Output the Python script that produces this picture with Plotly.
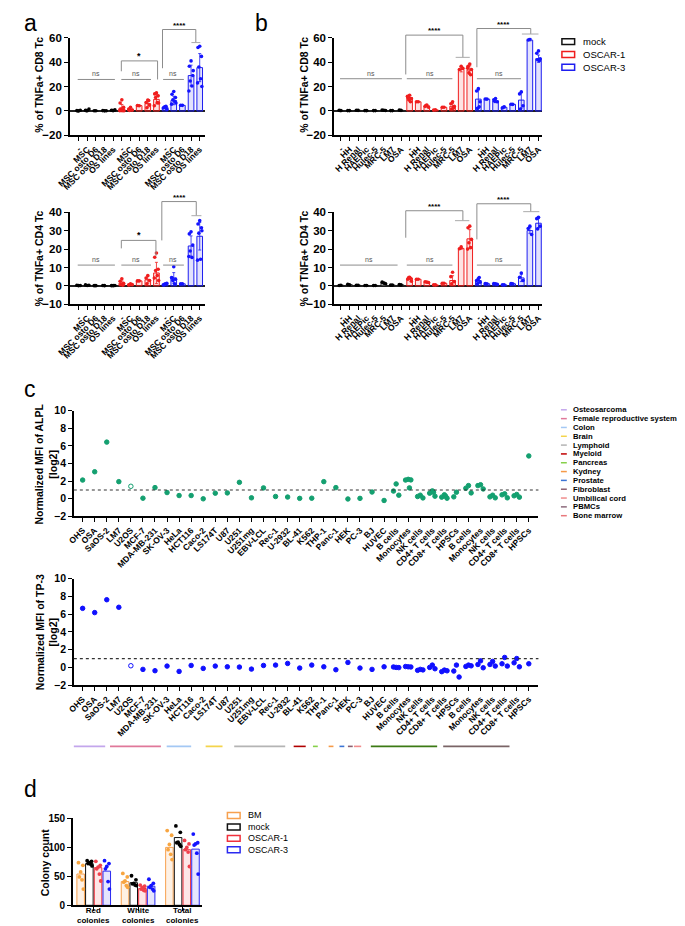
import plotly.graph_objects as go

W, H = 685, 926
FONT = "Liberation Sans, Arial, sans-serif"


def px(x):
    return x / W


def py(y):
    return 1 - y / H


# ---------------- Panel a / b data ----------------
A_CATS = ["-", "MSC", "MSC osto D6", "MSC osto D18", "OS lines"]
B_CATS = ["-", "HH", "H Renal", "HAEPic", "Hulec-5", "MRC-5", "LM7", "OSA"]
SERIES = ["mock", "OSCAR-1", "OSCAR-3"]
SERIES_LINE = ["#111111", "#f01e1e", "#1e1ef0"]
SERIES_FILL = ["rgba(255,255,255,1)", "rgba(240,30,30,0.13)", "rgba(30,30,240,0.13)"]
SERIES_DOT = ["#000000", "#f01e1e", "#1414ff"]

# a: CD8
A_CD8_MOCK = [0.3, 0.6, 0.2, 0.2, 0.5]
A_CD8_MOCK_SD = [0.3, 0.6, 0.1, 0.1, 0.3]
A_CD8_MOCK_PTS = [[0.0, 0.3, 0.6, 0.2], [0.2, 0.5, 1.6, 0.3], [0.2, 0.2], [0.1, 0.3, 0.2], [0.3, 0.6, 0.9, 0.4]]
A_CD8_OSC1 = [2.3, 1.6, 4.4, 6.0, 9.5]
A_CD8_OSC1_SD = [3.0, 1.2, 0.2, 2.8, 3.8]
A_CD8_OSC1_PTS = [[9.1, 6.5, 3.0, 1.6, 0.5, 0.3, 0.2], [3.0, 1.6, 0.8, 0.5], [4.3, 4.5],
                  [9.0, 7.0, 4.8, 2.7, 8.5], [14.8, 14.0, 12.4, 11.0, 7.0, 4.3, 6.5]]
A_CD8_OSC3 = [3.0, 8.6, 4.6, 29.0, 35.5]
A_CD8_OSC3_SD = [1.0, 3.5, 0.3, 8.5, 11.5]
A_CD8_OSC3_PTS = [[3.5, 2.4, 1.3, 3.0, 3.8], [15.9, 13.7, 11.0, 9.1, 8.0, 5.6, 6.5], [4.6, 4.7],
                  [41.0, 36.6, 29.0, 24.5, 20.4, 16.4, 33.0], [53.0, 52.0, 44.7, 36.0, 26.4, 23.0, 20.0]]

# a: CD4
A_CD4_MOCK = [0.2, 0.3, 0.1, 0.1, 0.1]
A_CD4_MOCK_SD = [0.1, 0.2, 0.05, 0.05, 0.05]
A_CD4_MOCK_PTS = [[0.1, 0.3, 0.2], [0.2, 0.5, 0.3], [0.1, 0.1], [0.1, 0.15], [0.1, 0.1, 0.2]]
A_CD4_OSC1 = [1.5, 0.8, 2.7, 3.3, 7.0]
A_CD4_OSC1_SD = [1.2, 0.3, 0.1, 1.8, 5.8]
A_CD4_OSC1_PTS = [[3.9, 2.5, 1.4, 0.7, 0.4], [1.1, 0.5, 0.7], [2.7, 2.7], [5.6, 4.3, 2.9, 1.1],
                  [17.9, 15.6, 9.0, 8.3, 5.6, 4.3, 2.9]]
A_CD4_OSC3 = [0.8, 4.3, 1.1, 21.7, 27.0]
A_CD4_OSC3_SD = [0.4, 2.9, 0.1, 5.5, 7.5]
A_CD4_OSC3_PTS = [[1.1, 0.5, 1.4, 0.6], [10.4, 4.3, 3.6, 2.9, 1.1, 4.5], [1.1, 1.1],
                  [29.4, 28.3, 22.2, 19.0, 15.4, 16.0], [35.5, 33.7, 31.6, 28.7, 14.5, 14.0, 30.0]]

# b: CD8
B_CD8_MOCK = [0.4, 0.3, 0.5, 0.3, 0.3, 0.6, 0.3, 0.5]
B_CD8_MOCK_SD = [0.2, 0.1, 0.2, 0.1, 0.1, 0.3, 0.1, 0.2]
B_CD8_MOCK_PTS = [[0.3, 0.5], [0.3, 0.3], [0.5, 0.6], [0.3, 0.3], [0.3, 0.3], [0.6, 0.8, 0.4], [0.3, 0.3], [0.5, 0.7]]
B_CD8_OSC1 = [11.0, 7.5, 4.2, 0.9, 3.0, 3.8, 34.0, 33.5]
B_CD8_OSC1_SD = [2.0, 0.3, 0.8, 0.2, 0.2, 2.4, 2.0, 3.5]
B_CD8_OSC1_PTS = [[12.9, 11.0, 10.2, 9.1, 7.5, 12.0], [7.5, 7.5], [4.8, 3.8, 3.0, 4.5], [1.0, 0.8], [3.0, 3.1],
                  [7.5, 5.9, 3.8, 1.6, 2.5], [36.6, 33.9, 35.0], [38.5, 36.6, 33.9, 31.2, 29.6, 35.0]]
B_CD8_OSC3 = [9.7, 9.7, 8.3, 3.0, 5.4, 8.9, 58.0, 42.8]
B_CD8_OSC3_SD = [7.5, 0.3, 1.5, 0.8, 0.2, 6.5, 0.6, 3.0]
B_CD8_OSC3_PTS = [[18.3, 16.4, 7.5, 2.1, 3.5], [9.7, 9.8], [10.2, 9.1, 7.5, 8.0], [3.5, 2.5], [5.4, 5.5],
                  [15.6, 14.0, 4.3, 1.6], [58.9, 58.1], [49.2, 47.3, 42.8, 42.0, 41.2]]

# b: CD4
B_CD4_MOCK = [0.3, 0.6, 0.3, 0.2, 0.2, 1.5, 0.4, 0.5]
B_CD4_MOCK_SD = [0.1, 0.2, 0.1, 0.1, 0.1, 0.5, 0.1, 0.2]
B_CD4_MOCK_PTS = [[0.3, 0.2], [0.6, 0.8], [0.3, 0.3], [0.2, 0.2], [0.2, 0.2], [1.5, 2.0, 1.1], [0.4, 0.4], [0.5, 0.7]]
B_CD4_OSC1 = [4.3, 3.6, 2.0, 0.5, 1.4, 2.9, 20.4, 25.6]
B_CD4_OSC1_SD = [0.6, 0.1, 0.3, 0.1, 0.1, 2.6, 0.5, 5.0]
B_CD4_OSC1_PTS = [[4.7, 3.6, 2.5, 4.5, 4.0], [3.6, 3.6], [2.0, 2.2, 1.8], [0.5, 0.6], [1.4, 1.4],
                  [7.4, 5.0, 2.3, 1.1], [21.2, 20.2], [32.5, 31.6, 25.3, 23.5, 20.8, 20.0]]
B_CD4_OSC3 = [2.9, 1.1, 1.1, 0.5, 1.1, 4.3, 30.1, 34.1]
B_CD4_OSC3_SD = [1.2, 0.1, 0.2, 0.1, 0.1, 2.0, 1.5, 2.5]
B_CD4_OSC3_PTS = [[3.8, 2.9, 2.0, 1.1, 4.5], [1.1, 1.2], [1.1, 1.3, 0.9], [0.5, 0.6], [1.1, 1.2],
                  [7.0, 4.7, 2.9], [32.5, 31.2, 28.0], [37.3, 36.6, 32.5, 31.0]]

# significance brackets: (x0, x1, y_top, y_left_end, y_right_end, label, cap_x0, cap_x1)
A_CD8_NS = [(-0.1, 4.2, 25.8), (4.94, 8.37, 25.8), (9.77, 12.17, 25.8)]
A_CD8_BR = [(4.94, 9.13, 41.0, 32.5, 25.8, "*", None, None),
            (9.7, 13.55, 66.7, 35.0, 56.0, "****", 13.04, 14.07)]
A_CD4_NS = [(-0.1, 4.2, 11.3), (4.94, 8.37, 11.3), (9.77, 12.17, 11.3)]
A_CD4_BR = [(4.94, 8.94, 24.75, 20.4, 16.3, "*", None, None),
            (9.62, 13.6, 45.9, 24.75, 38.2, "****", 13.04, 14.2)]
B_CD8_NS = [(-0.1, 7.1, 26.4), (7.67, 12.98, 26.4), (15.83, 20.96, 26.4)]
B_CD8_BR = [(7.55, 14.2, 62.1, 29.9, 43.9, "****", 13.36, 15.0),
            (15.83, 22.1, 67.5, 35.8, 63.0, "****", 21.07, 23.0)]
B_CD4_NS = [(-0.1, 6.6, 11.3), (7.67, 12.98, 11.3), (15.83, 20.96, 11.3)]
B_CD4_BR = [(7.55, 14.2, 40.9, 26.2, 35.5, "****", 13.28, 14.95),
            (15.83, 22.1, 44.7, 25.3, 40.4, "****", 21.22, 23.1)]

# ---------------- Panel c data ----------------
C_CATS = ["OHS", "OSA", "SaOS-2", "LM7", "U2OS", "MCF-7", "MDA-MB-231", "SK-OV-3", "HeLa", "HCT116",
          "Caco-2", "LS174T", "U87", "U251", "U251mg", "EBV-LCL", "Rec-1", "U-2932", "BL-41", "K562",
          "THP-1", "Panc-1", "HEK", "PC-3", "BJ", "HUVEC",
          "B cells", "Monocytes", "NK cells", "CD4+ T cells", "CD8+ T cells", "HPSCs",
          "B cells", "Monocytes", "NK cells", "CD4+ T cells", "CD8+ T cells", "HPSCs"]
C_OPEN = ["U2OS"]
ALPL = [[2.13], [3.07], [6.44], [1.95], [1.42], [0.07], [1.27], [0.71], [0.37], [0.37],
        [0.0], [0.64], [0.67], [1.87], [0.11], [1.24], [0.26], [0.2], [0.05], [0.07],
        [1.95], [1.27], [-0.02], [0.05], [0.77], [-0.19],
        [1.69, 0.88, 0.41], [2.21, 2.13, 2.15, 1.24], [0.41, 0.26, 0.1], [0.9, 0.64, 0.3, 0.75],
        [0.45, 0.19, 0.07, 0.3], [0.75, 0.22],
        [1.5, 1.2, 0.67], [1.6, 1.5, 1.12], [0.41, 0.22, 0.11], [0.56, 0.45, 0.11], [0.49, 0.34, 0.19], [4.87]]
TP3 = [[6.65], [6.17], [7.62], [6.77], [0.19], [-0.22], [-0.37], [0.15], [-0.45], [0.22],
       [-0.11], [0.15], [0.07], [0.04], [-0.19], [0.22], [0.26], [0.45], [-0.07], [0.26],
       [0.07], [-0.26], [0.56], [-0.07], [-0.22], [0.07],
       [0.0, 0.05, -0.02], [0.07, 0.1, 0.05], [-0.22, -0.33, -0.28], [0.26, 0.0, -0.15],
       [-0.3, -0.48, -0.38], [0.26, -0.41, -1.08],
       [0.26, 0.11, 0.18], [0.74, 0.33, -0.04], [0.67, 0.33, 0.15], [1.12, 0.41, 0.15], [1.0, 0.52, 0.07], [0.41]]
THRESHOLD = 1
TISSUES = ["Osteosarcoma", "Female reproductive system", "Colon", "Brain", "Lymphoid", "Myeloid",
           "Pancreas", "Kydney", "Prostate", "Fibroblast", "Umbilical cord", "PBMCs", "Bone marrow"]
TISSUE_LEGEND_COLORS = ["#c3a6ec", "#e0789a", "#a4c8f4", "#f4d44c", "#b4b4b4", "#c00000", "#86d04a",
                        "#f59a48", "#3c74d4", "#8c6070", "#f08c8c", "#8c6a7c", "#e8787c"]
TISSUE_BAR_COLORS = ["#c3a6ec", "#e0789a", "#a4c8f4", "#f4d44c", "#b4b4b4", "#b00000", "#86d04a",
                     "#f59a48", "#3c74d4", "#8c6070", "#f08c8c", "#3c7a14", "#7a6466"]
# tissue spans along the category axis (start, end)
TISSUE_SPANS = [(-1.38, 1.87), (2.27, 6.49), (6.97, 9.0), (10.2, 11.6), (12.57, 16.8), (17.5, 18.5),
                (19.1, 19.5), (20.4, 20.8), (21.3, 21.7), (22.0, 22.4), (22.5, 23.1), (23.9, 29.4),
                (29.9, 35.4)]

# ---------------- Panel d data ----------------
D_CATS = ["Red colonies", "White colonies", "Total colonies"]
D_SERIES = ["BM", "mock", "OSCAR-1", "OSCAR-3"]
D_LINE = ["#f7a04e", "#111111", "#f0303c", "#2a2af0"]
D_FILL = ["rgba(247,160,78,0.15)", "rgba(255,255,255,1)", "rgba(240,48,60,0.12)", "rgba(42,42,240,0.12)"]
D_DOT = ["#f7a541", "#000000", "#f0404c", "#1414ff"]
D_BM = [54, 41, 100]
D_MOCK = [72, 39, 117]
D_OSC1 = [65, 29, 96]
D_OSC3 = [59, 33, 97]
D_BM_PTS = [[73.6, 69, 57.7, 49, 44, 28], [55, 49, 42, 40, 34, 31], [129, 121, 105, 96, 88, 79]]
D_MOCK_PTS = [[77, 76, 73.6, 72, 71, 68], [51, 44, 38, 37, 35, 34], [137, 126, 109, 108, 105, 102]]
D_OSC1_PTS = [[76, 69, 66, 63, 54, 42], [35, 33, 31, 28, 26, 25], [112, 106, 100, 96, 92, 67]]
D_OSC3_PTS = [[77, 72, 67, 63, 41, 28], [45, 38, 34, 31, 28, 25], [123, 108, 106, 104, 90, 54]]

# ---------------- build ----------------
fig = go.Figure()
shapes = []
annotations = []
layout_axes = {}
AX_GEOM = {}
JIT = [0.0, -0.2, 0.2, -0.1, 0.1, -0.25, 0.25, 0.05]


def ax_names(n):
    return ("x", "y") if n == 1 else (f"x{n}", f"y{n}")


def v2paper(n, v):
    top, bottom, r0, r1 = AX_GEOM[n]
    return py(bottom - (v - r0) / (r1 - r0) * (bottom - top))


def setup_axes(n, xdom, ydom, xrange, yrange, tickvals, ticktext, ytickvals, zeroline=False,
               tickfont=8.5, tickangle=-45, ytickfont=10, showxlabels=True):
    xa, ya = ax_names(n)
    AX_GEOM[n] = (ydom[0], ydom[1], yrange[0], yrange[1])
    xk = "xaxis" if n == 1 else f"xaxis{n}"
    yk = "yaxis" if n == 1 else f"yaxis{n}"
    layout_axes[xk] = dict(domain=[px(xdom[0]), px(xdom[1])], range=xrange, anchor=ya,
                           tickmode="array", tickvals=tickvals, ticktext=ticktext, tickangle=tickangle,
                           showticklabels=showxlabels,
                           showline=True, linecolor="black", linewidth=1.5, ticks="outside",
                           ticklen=4, tickwidth=1.2, tickcolor="black", showgrid=False, zeroline=False,
                           tickfont=dict(family=FONT, size=tickfont, color="black", weight="bold"))
    layout_axes[yk] = dict(domain=[py(ydom[1]), py(ydom[0])], range=yrange, anchor=xa,
                           tickmode="array", tickvals=ytickvals, showline=True, linecolor="black",
                           linewidth=1.5, ticks="outside", ticklen=4, tickwidth=1.2, tickcolor="black",
                           showgrid=False, zeroline=zeroline, zerolinecolor="#222222", zerolinewidth=1.6,
                           tickfont=dict(family=FONT, size=ytickfont, color="black", weight="bold"))


def bar_panel(n, cats, means, sds, pts):
    xa, ya = ax_names(n)
    k = len(cats)
    for g in range(3):
        xs = [g * k + i for i in range(k)]
        fig.add_trace(go.Bar(x=xs, y=means[g], width=0.65, name=SERIES[g], showlegend=False,
                             marker=dict(color=SERIES_FILL[g], line=dict(color=SERIES_LINE[g], width=1)),
                             error_y=dict(type="data", array=sds[g], color=SERIES_LINE[g],
                                          thickness=0.8, width=1.5),
                             xaxis=xa, yaxis=ya))
        xp, yp = [], []
        for i, vals in enumerate(pts[g]):
            for j, v in enumerate(vals):
                xp.append(g * k + i + JIT[j % len(JIT)])
                yp.append(v)
        fig.add_trace(go.Scatter(x=xp, y=yp, mode="markers", showlegend=False,
                                 marker=dict(color=SERIES_DOT[g], size=3.6),
                                 xaxis=xa, yaxis=ya))


def sig_marks(n, ns_list, br_list):
    xa, ya = ax_names(n)
    gray = "#8c8c8c"

    def hline(x0, x1, v, col=gray):
        shapes.append(dict(type="line", xref=xa, yref="paper", x0=x0, x1=x1,
                           y0=v2paper(n, v), y1=v2paper(n, v), line=dict(color=col, width=1)))

    def vline(x, v0, v1):
        shapes.append(dict(type="line", xref=xa, yref="paper", x0=x, x1=x,
                           y0=v2paper(n, v0), y1=v2paper(n, v1), line=dict(color=gray, width=1)))

    for x0, x1, y in ns_list:
        hline(x0, x1, y)
        annotations.append(dict(x=(x0 + x1) / 2, y=v2paper(n, y), xref=xa, yref="paper", text="ns",
                                showarrow=False, yanchor="bottom",
                                font=dict(family=FONT, size=7, color="#555555")))
    for x0, x1, yt, yl, yr, lab, c0, c1 in br_list:
        hline(x0, x1, yt)
        vline(x0, yt, yl)
        vline(x1, yt, yr)
        if c0 is not None:
            hline(c0, c1, yr, "#aaaaaa")
        annotations.append(dict(x=(x0 + x1) / 2, y=v2paper(n, yt), xref=xa, yref="paper", text=lab,
                                showarrow=False, yanchor="bottom", yshift=-2,
                                font=dict(family=FONT, size=9 if lab == "*" else 8, color="black",
                                          weight="bold")))


def ytitle(text, x, y, size=10.5):
    annotations.append(dict(x=px(x), y=py(y), xref="paper", yref="paper", text=text, textangle=-90,
                            showarrow=False, xanchor="center", yanchor="middle",
                            font=dict(family=FONT, size=size, color="black", weight="bold")))


# panel a
a_ticks = [A_CATS[i % 5] for i in range(15)]
setup_axes(1, (49, 187), (24, 123), [-1.0, 14.6], [-20, 60], list(range(15)), a_ticks,
           [-20, 0, 20, 40, 60], zeroline=True, ytickfont=11.5)
bar_panel(1, A_CATS, [A_CD8_MOCK, A_CD8_OSC1, A_CD8_OSC3], [A_CD8_MOCK_SD, A_CD8_OSC1_SD, A_CD8_OSC3_SD],
          [A_CD8_MOCK_PTS, A_CD8_OSC1_PTS, A_CD8_OSC3_PTS])
sig_marks(1, A_CD8_NS, A_CD8_BR)
setup_axes(2, (49, 187), (201, 294), [-1.0, 14.6], [-10, 40], list(range(15)), a_ticks,
           [-10, 0, 10, 20, 30, 40], zeroline=True, ytickfont=11.5)
bar_panel(2, A_CATS, [A_CD4_MOCK, A_CD4_OSC1, A_CD4_OSC3], [A_CD4_MOCK_SD, A_CD4_OSC1_SD, A_CD4_OSC3_SD],
          [A_CD4_MOCK_PTS, A_CD4_OSC1_PTS, A_CD4_OSC3_PTS])
sig_marks(2, A_CD4_NS, A_CD4_BR)
ytitle("% of TNFa+ CD8 Tc", 17, 72)
ytitle("% of TNFa+ CD4 Tc", 17, 248)

# panel b
b_ticks = [B_CATS[i % 8] for i in range(24)]
setup_axes(3, (319, 532), (24, 123), [-0.8, 23.45], [-20, 60], list(range(24)), b_ticks,
           [-20, 0, 20, 40, 60], zeroline=True, ytickfont=11.5)
bar_panel(3, B_CATS, [B_CD8_MOCK, B_CD8_OSC1, B_CD8_OSC3], [B_CD8_MOCK_SD, B_CD8_OSC1_SD, B_CD8_OSC3_SD],
          [B_CD8_MOCK_PTS, B_CD8_OSC1_PTS, B_CD8_OSC3_PTS])
sig_marks(3, B_CD8_NS, B_CD8_BR)
setup_axes(4, (319, 532), (201, 294), [-0.8, 23.45], [-10, 40], list(range(24)), b_ticks,
           [-10, 0, 10, 20, 30, 40], zeroline=True, ytickfont=11.5)
bar_panel(4, B_CATS, [B_CD4_MOCK, B_CD4_OSC1, B_CD4_OSC3], [B_CD4_MOCK_SD, B_CD4_OSC1_SD, B_CD4_OSC3_SD],
          [B_CD4_MOCK_PTS, B_CD4_OSC1_PTS, B_CD4_OSC3_PTS])
sig_marks(4, B_CD4_NS, B_CD4_BR)
ytitle("% of TNFa+ CD8 Tc", 288, 72)
ytitle("% of TNFa+ CD4 Tc", 288, 248)

# legend a/b
for i, s in enumerate(SERIES):
    yc = 28 + 13 * i
    shapes.append(dict(type="rect", xref="paper", yref="paper", x0=px(552), x1=px(565),
                       y0=py(yc + 3), y1=py(yc - 3), line=dict(color=SERIES_LINE[i], width=1.5),
                       fillcolor="white"))
    annotations.append(dict(x=px(572), y=py(yc), xref="paper", yref="paper", text=s, showarrow=False,
                            xanchor="left", yanchor="middle", font=dict(family=FONT, size=9.5, color="black")))


# panel c
def scatter_panel(n, values, color):
    xa, ya = ax_names(n)
    xs, ys, syms = [], [], []
    cj = [0.0, -0.22, 0.22, 0.1]
    for i, vals in enumerate(values):
        for j, v in enumerate(vals):
            xs.append(i + (cj[j % len(cj)] if len(vals) > 1 else 0.0))
            ys.append(v)
            syms.append("circle-open" if C_CATS[i] in C_OPEN else "circle")
    fig.add_trace(go.Scatter(x=xs, y=ys, mode="markers", showlegend=False,
                             marker=dict(color=color, size=4.5, symbol=syms, line=dict(color=color, width=1)),
                             xaxis=xa, yaxis=ya))
    shapes.append(dict(type="line", xref=f"{xa} domain", yref=ya, x0=0, x1=1, y0=THRESHOLD, y1=THRESHOLD,
                       line=dict(color="#333333", width=1.2, dash="dot")))


setup_axes(5, (53, 528), (402, 509), [-0.73, 37.8], [-2, 10], list(range(len(C_CATS))), C_CATS,
           [-2, 0, 2, 4, 6, 8, 10], ytickfont=10.5)
scatter_panel(5, ALPL, "#14a070")
setup_axes(6, (53, 528), (572, 680), [-0.73, 37.8], [-2, 10], list(range(len(C_CATS))), C_CATS,
           [-2, 0, 2, 4, 6, 8, 10], ytickfont=10.5)
scatter_panel(6, TP3, "#1010ff")
ytitle("Normalized MFI of ALPL<br>[log2]", 25, 456)
ytitle("Normalized MFI of TP-3<br>[log2]", 25, 626)

for (s0, s1), col in zip(TISSUE_SPANS, TISSUE_BAR_COLORS):
    shapes.append(dict(type="line", xref="x6", yref="paper", x0=s0, x1=s1, y0=py(742), y1=py(742),
                       line=dict(color=col, width=1.6)))
for i, (t, col) in enumerate(zip(TISSUES, TISSUE_LEGEND_COLORS)):
    yc = 401 + 8.94 * i
    shapes.append(dict(type="line", xref="paper", yref="paper", x0=px(551), x1=px(557), y0=py(yc), y1=py(yc),
                       line=dict(color=col, width=1.5)))
    annotations.append(dict(x=px(561), y=py(yc), xref="paper", yref="paper", text=t, showarrow=False,
                            xanchor="left", yanchor="middle",
                            font=dict(family=FONT, size=7.7, color="black", weight="bold")))

# panel d
setup_axes(7, (52, 184), (815, 903), [-0.47, 2.44], [0, 150], [0, 1, 2], D_CATS,
           [0, 50, 100, 150], tickfont=10, tickangle=0, showxlabels=False)
for g, cat in enumerate(D_CATS):
    annotations.append(dict(x=g, y=py(903.2), xref="x7", yref="paper", text=cat.replace(" ", "<br>"),
                            showarrow=False, xanchor="center", yanchor="top", borderpad=0,
                            font=dict(family=FONT, size=8, color="black", weight="bold")))
d_means = [D_BM, D_MOCK, D_OSC1, D_OSC3]
d_pts = [D_BM_PTS, D_MOCK_PTS, D_OSC1_PTS, D_OSC3_PTS]
DJ = [-0.05, 0.05, 0.0, -0.03, 0.03, 0.06]
for s in range(4):
    off = (s - 1.5) * 0.196
    fig.add_trace(go.Bar(x=[g + off for g in range(3)], y=d_means[s], width=0.17, name=D_SERIES[s],
                         showlegend=False,
                         marker=dict(color=D_FILL[s], line=dict(color=D_LINE[s], width=1)),
                         xaxis="x7", yaxis="y7"))
    xp, yp = [], []
    for g, vals in enumerate(d_pts[s]):
        for j, v in enumerate(vals):
            xp.append(g + off + DJ[j % len(DJ)])
            yp.append(v)
    fig.add_trace(go.Scatter(x=xp, y=yp, mode="markers", showlegend=False,
                             marker=dict(color=D_DOT[s], size=3.8), xaxis="x7", yaxis="y7"))
ytitle("Colony count", 23, 859)
for i, s in enumerate(D_SERIES):
    yc = 812 + 11.6 * i
    shapes.append(dict(type="rect", xref="paper", yref="paper", x0=px(210), x1=px(223),
                       y0=py(yc + 3), y1=py(yc - 3), line=dict(color=D_LINE[i], width=1.5),
                       fillcolor="white"))
    annotations.append(dict(x=px(229), y=py(yc), xref="paper", yref="paper", text=s, showarrow=False,
                            xanchor="left", yanchor="middle", font=dict(family=FONT, size=9, color="black")))

# panel letters
for lab, x, y in [("a", 0, 9), ("b", 236, 9), ("c", 0, 380), ("d", 0, 785)]:
    annotations.append(dict(x=px(x), y=py(y), xref="paper", yref="paper", text=lab, showarrow=False,
                            xanchor="left", yanchor="middle", font=dict(family=FONT, size=23, color="black")))

fig.update_layout(width=W, height=H, margin=dict(l=0, r=0, t=0, b=0), autosize=False,
                  paper_bgcolor="white", plot_bgcolor="white", showlegend=False,
                  barmode="overlay", shapes=shapes, annotations=annotations, **layout_axes)
fig.write_html("out.html")
